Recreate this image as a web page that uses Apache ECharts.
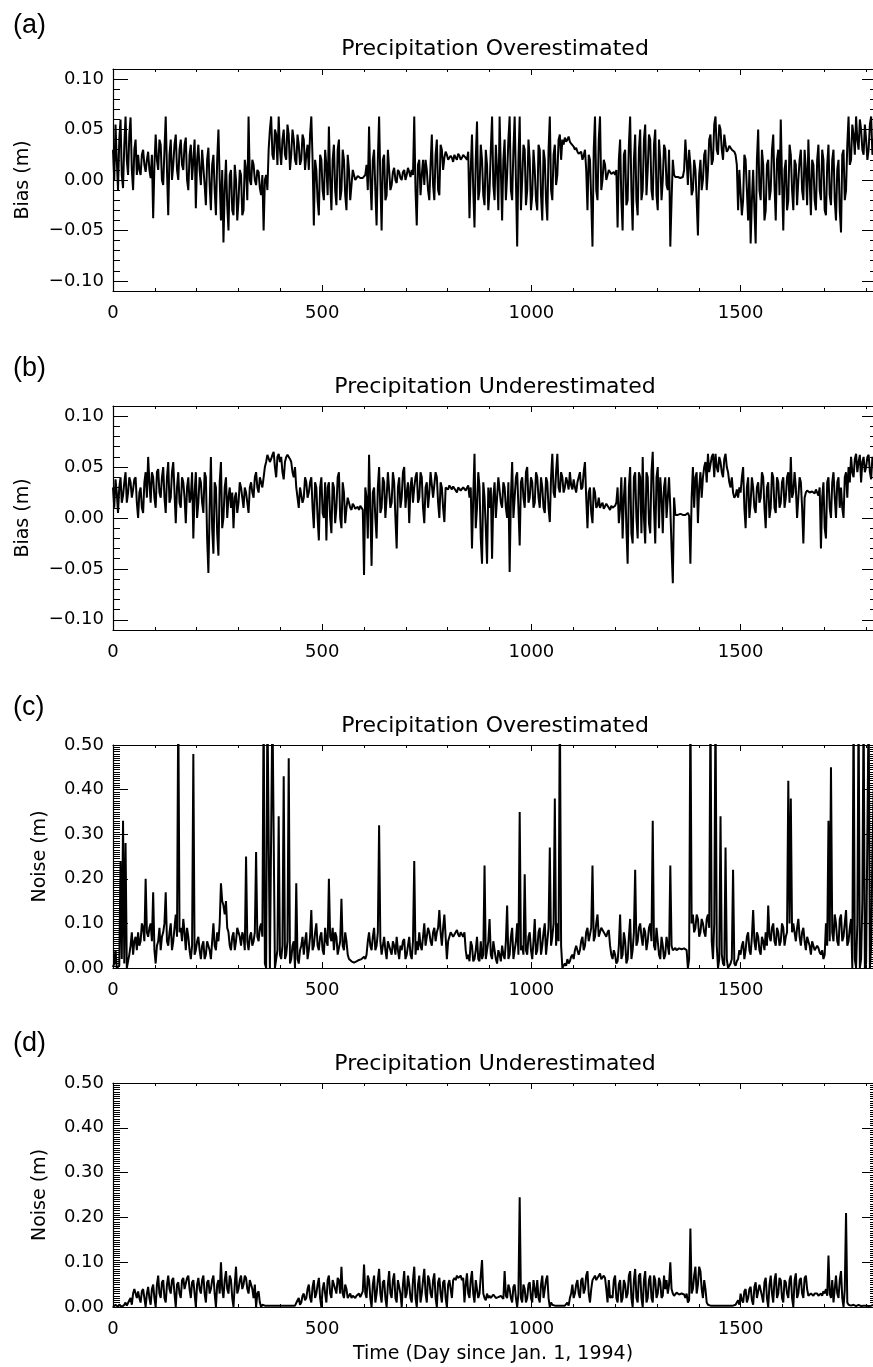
<!DOCTYPE html>
<html>
<head>
<meta charset="utf-8">
<script src="https://cdn.jsdelivr.net/npm/echarts@6/dist/echarts.min.js"></script>
<style>
html,body{margin:0;padding:0;background:#fff;}
#chart{width:873px;height:1367px;}
</style>
</head>
<body>
<div id="chart"></div>
<script>
// ---- data: samples on days 0,6,12,... (main) and 3,9,15,... (mid); values in millimetres ----
const STEP = 6;
const XMAX = 1826;
const xTickLabels = [0, 500, 1000, 1500];
const biasTicks = [-0.1, -0.05, 0, 0.05, 0.1];
const noiseTicks = [0, 0.1, 0.2, 0.3, 0.4, 0.5];
const panelLabels = ['(a)', '(b)', '(c)', '(d)'];
const panelTitles = ['Precipitation Overestimated', 'Precipitation Underestimated', 'Precipitation Overestimated', 'Precipitation Underestimated'];
const yNames = ['Bias (m)', 'Bias (m)', 'Noise (m)', 'Noise (m)'];
const xName = 'Time (Day since Jan. 1, 1994)';

// (a) bias, precipitation overestimated
const biasOverMm = [
 30,55,-10,60,-8,63,5,62,-10,40,
 25,5,30,8,28,2,-38,45,10,35,
 -5,63,-35,40,15,45,0,40,10,42,
 -10,35,20,-28,35,-5,30,-25,32,-30,
 25,-35,50,-40,-62,20,-50,10,-35,0,
 -20,5,-30,10,63,-5,15,-5,8,-15,
 -50,5,30,63,20,45,63,15,50,20,
 45,25,40,15,35,20,40,25,10,63,
 -45,10,-35,20,-20,15,53,-30,35,-25,
 40,-10,20,-30,10,-5,5,2,3,3,
 2,15,53,-30,30,-45,63,-50,25,-15,
 10,-5,12,-3,8,0,10,5,8,10,
 63,-45,20,5,-5,10,-20,45,-20,40,
 -15,30,22,25,20,22,25,20,24,22,
 26,20,-38,45,-47,58,-10,20,-25,15,
 -10,63,-20,10,63,-40,40,5,63,-20,
 63,-66,63,0,30,-10,20,-15,10,-30,
 30,-40,20,-40,63,-20,35,5,45,40,
 42,40,38,35,30,28,25,20,30,-30,
 20,-66,63,-20,63,0,15,5,8,5,
 5,-47,40,-50,30,-20,63,-50,45,-35,
 50,-10,55,10,40,-20,50,-30,20,0,
 30,-10,-66,20,3,3,2,3,40,-5,
 15,-10,10,-55,20,0,30,10,45,20,
 63,25,50,20,35,30,32,30,25,-30,
 10,-20,20,-40,-63,10,-63,50,-20,15,
 -30,20,-10,45,-40,30,60,-50,20,-20,
 25,-30,15,0,30,-20,10,40,-35,15,
 -30,35,-20,20,-35,35,-25,30,-40,20,
 -52,30,-10,63,20,45,63,30,50,25,
 40,30,63,35,45
];
const biasOverMidMm = [
 0,20,40,5,35,20,45,10,30,5,
 10,25,15,20,10,25,15,20,40,0,
 30,10,25,0,35,10,30,15,35,0,
 25,0,40,20,10,30,-5,20,-5,15,
 -10,20,0,10,-10,-25,5,-30,15,-40,
 10,-35,20,-20,0,20,0,10,-8,5,
 0,-10,50,25,50,15,30,40,25,55,
 10,50,20,45,15,45,10,35,45,20,
 20,-20,25,-10,30,-15,0,20,-10,30,
 -20,30,-15,25,-20,10,0,4,2,2,
 5,-10,0,20,-10,20,0,20,-20,30,
 -10,8,0,10,2,8,0,12,3,5,
 -10,15,-15,20,20,-10,15,-5,25,-10,
 35,10,28,20,24,18,22,26,20,25,
 22,28,10,-10,20,-20,35,-15,30,-30,
 30,-5,35,-30,10,20,-20,40,-10,30,
 0,20,-30,35,-25,40,-30,30,-20,35,
 -15,30,-20,30,-10,25,-5,40,20,35,
 38,43,36,33,32,26,28,24,10,25,
 -20,30,-10,40,-10,20,0,10,6,8,
 10,20,-20,25,-25,35,-10,20,-20,30,
 -20,40,-15,45,-10,35,-15,40,-20,35,
 -5,30,-20,5,4,2,3,10,20,30,
 -15,20,-20,5,-10,25,-10,40,15,55,
 30,55,30,45,28,34,30,28,15,10,
 -35,25,-10,10,-20,-30,20,-10,30,-40,
 15,-20,30,-5,20,-15,0,10,-30,35,
 -10,20,-25,20,-10,30,-25,0,20,-20,
 20,-10,30,-30,15,-15,20,-20,10,-30,
 25,-20,35,15,55,25,40,60,30,55,
 20,55,25,60,30
];

// (b) bias, precipitation underestimated
const biasUnderMm = [
 30,38,5,40,22,45,25,35,28,40,
 0,30,5,45,60,15,40,10,48,20,
 50,5,55,20,55,-5,45,10,35,-5,
 40,20,-20,45,15,35,5,40,-54,60,
 -35,30,-37,55,0,40,20,10,-10,25,
 15,30,10,25,5,35,20,45,25,35,
 40,55,62,58,65,40,63,60,38,60,
 62,55,40,30,10,30,20,35,25,40,
 -10,30,-22,40,0,-22,35,-15,30,10,
 45,-10,25,10,15,8,12,10,8,10,
 -56,20,62,-47,30,-20,50,10,35,20,
 45,15,35,-30,40,20,50,25,-5,40,
 30,45,20,40,-5,35,25,45,20,40,
 0,30,-4,30,32,28,30,25,30,28,
 30,28,20,-30,63,10,30,-45,20,-45,
 10,-40,35,20,40,10,30,0,-53,55,
 20,45,-27,40,10,50,20,35,15,40,
 10,30,5,35,-4,63,20,63,25,40,
 30,35,45,28,30,35,45,30,55,-10,
 30,-5,25,12,10,15,10,12,8,10,
 12,30,10,-20,40,-45,50,-25,45,-20,
 40,60,-25,40,-15,65,-25,50,40,-15,
 40,20,10,-64,3,3,4,3,3,5,
 -45,50,40,-5,45,40,55,63,45,63,
 63,45,55,40,63,45,30,25,22,20,
 25,50,-10,40,15,30,5,35,20,40,
 -10,35,10,40,5,35,15,40,20,45,
 60,25,30,20,35,-25,25,26,24,25,
 28,22,-30,35,-20,40,0,45,0,40,
 30,0,45,50,60,40,63,55,35,60,
 50,62,38,55,45
];
const biasUnderMidMm = [
 10,25,30,15,35,15,40,20,38,15,
 25,10,35,20,35,45,20,45,25,40,
 20,40,15,45,25,30,15,40,20,30,
 15,45,25,0,40,15,45,-20,10,-10,
 35,-15,35,-10,30,0,30,25,20,5,
 35,20,30,15,30,25,40,30,40,30,
 50,62,55,62,50,60,55,45,55,62,
 58,45,50,20,30,15,40,20,35,10,
 35,0,30,5,35,30,0,35,-5,40,
 0,35,-5,20,10,14,9,11,12,8,
 30,-20,10,25,0,30,5,40,0,45,
 10,45,0,30,10,45,10,35,30,15,
 40,15,45,10,30,10,45,20,45,15,
 35,10,30,28,30,31,27,30,27,30,
 27,32,30,20,-10,45,-20,35,-10,30,
 30,20,0,40,15,35,10,35,20,0,
 40,10,35,20,45,15,40,10,45,20,
 40,10,40,10,40,25,45,30,45,25,
 40,28,32,38,25,40,28,45,20,25,
 5,30,10,20,13,9,14,10,12,10,
 15,-5,40,20,-10,30,-15,40,0,45,
 -15,0,45,-5,45,10,40,-10,20,30,
 0,40,-30,20,4,3,3,4,3,2,
 20,10,45,30,20,50,35,45,60,40,
 50,60,45,58,50,35,40,20,28,30,
 40,10,30,0,40,10,30,15,45,10,
 30,0,45,10,40,10,35,10,40,15,
 20,45,0,40,10,20,27,25,26,24,
 25,30,20,-10,35,10,35,20,35,10,
 10,40,20,35,45,58,45,62,55,45,
 60,45,60,40,55
];

// (c) noise, precipitation overestimated (values above 500 run off the top)
const noiseOverMm = [
 2,40,0,240,330,280,0,50,30,70,
 80,60,90,200,70,100,170,10,60,40,
 80,170,50,100,60,120,600,90,110,40,
 70,20,480,40,70,20,60,30,50,20,
 100,40,60,190,140,150,80,40,80,60,
 90,50,70,250,40,80,60,260,60,100,
 600,0,600,0,600,0,340,20,430,30,
 470,20,60,190,10,50,30,80,40,130,
 50,100,40,80,30,60,200,60,40,70,
 30,155,40,60,20,15,12,15,18,20,
 25,30,80,40,90,50,320,30,70,20,
 60,30,50,70,20,40,65,30,70,20,
 240,60,80,40,100,70,80,50,90,80,
 130,50,120,20,70,80,75,85,70,75,
 80,20,15,50,20,70,15,20,230,20,
 110,20,40,10,30,50,20,140,30,90,
 20,100,350,50,210,30,80,20,110,40,
 90,50,100,60,270,70,380,100,600,0,
 10,20,15,30,40,50,40,70,50,90,
 60,230,70,120,80,90,75,80,50,20,
 30,15,120,30,60,20,110,40,220,60,
 100,50,80,60,100,330,40,60,20,50,
 30,50,230,40,45,40,45,40,45,0,
 600,120,90,110,80,100,70,120,600,20,
 600,0,340,10,270,0,10,220,5,20,
 30,60,40,80,30,130,40,70,30,60,
 80,140,60,100,50,80,60,90,70,420,
 380,100,60,110,50,90,40,70,30,50,
 40,45,30,20,100,330,450,60,100,50,
 120,70,130,60,110,600,0,600,20,600,
 10,600,50,400,100
];
const noiseOverMidMm = [
 10,0,5,20,10,0,30,80,60,40,
 50,100,60,80,90,60,40,50,90,70,
 100,60,80,40,90,70,80,60,80,90,
 40,50,30,60,40,50,20,60,40,60,
 50,80,100,150,120,90,50,70,40,90,
 70,80,40,60,70,50,80,70,90,70,
 10,600,0,600,0,40,30,50,20,60,
 10,50,0,20,40,70,60,20,70,40,
 80,50,70,40,90,50,70,90,80,30,
 60,50,80,30,18,14,13,16,19,22,
 20,60,50,70,40,80,60,50,40,60,
 40,60,30,40,50,60,20,50,30,60,
 30,40,50,70,50,90,60,80,60,90,
 80,90,70,60,80,70,80,75,80,70,
 40,30,60,15,40,20,60,30,20,60,
 30,60,20,40,15,30,60,20,70,20,
 60,30,40,30,40,70,40,60,30,80,
 30,80,30,90,50,100,50,60,50,5,
 5,10,25,20,50,30,60,40,80,60,
 90,60,100,70,90,80,70,85,30,40,
 10,50,20,80,10,70,20,80,50,90,
 70,90,40,90,60,50,90,30,70,20,
 70,30,50,42,40,44,42,44,40,20,
 100,80,120,70,110,80,110,90,60,100,
 50,20,30,5,20,5,20,10,15,40,
 50,20,70,40,70,60,80,40,70,40,
 50,70,90,60,90,50,100,50,80,100,
 80,80,90,70,80,60,70,50,60,40,
 50,35,40,30,50,60,80,120,60,110,
 60,100,50,90,0,20,100,0,150,0,
 300,0,250,50,200
];

// (d) noise, precipitation underestimated
const noiseUnderMm = [
 0,5,0,8,2,10,0,20,30,40,
 35,10,40,0,45,5,50,0,70,20,
 60,10,70,30,65,0,55,20,65,40,
 70,20,60,0,65,30,70,10,60,40,
 70,0,60,100,20,80,30,60,0,90,
 40,70,50,65,30,60,20,0,35,0,
 3,3,3,3,3,3,3,3,3,3,
 3,3,3,5,20,10,30,20,50,10,
 60,30,65,0,55,10,70,20,60,30,
 60,90,20,40,25,20,22,25,30,25,
 95,20,60,0,70,30,85,10,60,0,
 80,20,75,10,60,0,80,30,50,10,
 90,0,70,30,85,10,60,20,75,0,
 65,10,60,0,60,20,65,70,65,60,
 10,75,20,80,10,60,30,105,20,30,
 25,20,25,18,20,22,80,20,40,10,
 50,0,245,10,40,20,55,10,40,60,
 10,70,20,70,0,5,3,3,3,3,
 3,10,20,50,30,60,20,65,40,80,
 10,60,70,65,75,60,65,10,20,20,
 70,10,60,20,50,30,80,0,85,10,
 75,0,80,20,70,10,60,30,55,25,
 40,30,100,30,28,30,32,30,20,10,
 175,40,90,50,80,20,40,5,3,3,
 3,3,3,3,3,3,3,3,5,15,
 30,10,40,20,45,5,55,20,50,10,
 65,0,70,10,75,30,60,10,55,20,
 70,0,75,30,65,20,70,25,30,25,
 28,25,30,35,40,115,20,10,70,20,
 80,0,210,5,3,5,2,5,2,3,
 3,2,3,5,2
];
const noiseUnderMidMm = [
 3,2,6,0,5,3,15,5,40,20,
 20,35,20,30,20,40,20,50,30,55,
 20,50,40,60,30,50,30,60,40,65,
 40,55,30,50,40,60,30,55,30,60,
 30,50,30,40,60,40,70,20,50,30,
 60,40,70,40,60,40,50,30,10,5,
 3,3,3,3,3,3,3,3,3,3,
 3,3,3,15,5,25,15,40,20,45,
 20,50,20,40,30,60,30,60,40,65,
 30,30,50,20,30,25,20,28,22,35,
 30,70,20,50,10,60,30,55,20,50,
 30,60,20,60,30,50,20,70,20,60,
 20,50,10,60,30,70,30,60,20,55,
 30,55,20,50,40,60,60,65,70,65,
 50,30,60,30,60,20,70,30,15,20,
 20,28,20,22,25,18,25,50,20,45,
 20,30,20,50,10,50,20,60,20,20,
 50,20,60,20,10,3,3,3,3,3,
 5,3,30,20,50,30,60,30,70,30,
 40,65,60,70,62,70,40,60,25,60,
 20,50,10,60,20,70,20,60,20,70,
 20,60,10,60,20,70,20,65,20,70,
 60,50,40,25,32,28,30,28,30,15,
 30,70,30,90,40,60,10,3,3,3,
 3,3,3,3,3,3,3,3,10,5,
 15,35,10,40,15,45,20,50,25,55,
 20,50,30,60,20,65,20,60,30,60,
 20,60,20,60,30,65,40,28,28,30,
 30,28,25,30,25,30,60,40,30,60,
 20,40,10,3,4,3,4,3,3,2,
 2,4,3,3,3
];

// ---- layout ----
const FONT = 'DejaVu Sans';
const GRID_LEFT = 113, GRID_WIDTH = 764;
const panels = [
  {top: 69,   h: 222, min: -0.11, max: 0.11, minor: 0.01,  majors: biasTicks,  data: biasOverMm,   mid: biasOverMidMm,   nameX: 23, titleY: 49,   labelY: 26},
  {top: 406,  h: 224, min: -0.11, max: 0.11, minor: 0.01,  majors: biasTicks,  data: biasUnderMm,  mid: biasUnderMidMm,  nameX: 23, titleY: 387,  labelY: 369},
  {top: 745,  h: 223, min: 0,     max: 0.5,  minor: 0.005, majors: noiseTicks, data: noiseOverMm,  mid: noiseOverMidMm,  nameX: 40, titleY: 726,  labelY: 708},
  {top: 1083, h: 224, min: 0,     max: 0.5,  minor: 0.005, majors: noiseTicks, data: noiseUnderMm, mid: noiseUnderMidMm, nameX: 40, titleY: 1064, labelY: 1044}
];

function fmtY(v) {
  const s = Math.abs(v).toFixed(2);
  return (v < -1e-9 ? '\u2212' : '') + s;
}
function fmtX(v) { return String(Math.round(v)); }
function mergeSamples(main, mid) {
  const out = [];
  for (let k = 0; k < main.length; k++) {
    out.push([k * STEP, main[k] / 1000]);
    if (k < mid.length) out.push([k * STEP + STEP / 2, mid[k] / 1000]);
  }
  return out;
}
const black = {color: '#000', width: 1};
const grids = [], xAxes = [], yAxes = [], series = [], graphics = [];

panels.forEach((p, i) => {
  grids.push({left: GRID_LEFT, top: p.top, width: GRID_WIDTH, height: p.h, containLabel: false, outerBoundsMode: 'none'});
  const xBase = {gridIndex: i, type: 'value', min: 0, max: XMAX, splitLine: {show: false}};
  xAxes.push(Object.assign({}, xBase, {position: 'bottom', interval: 100,
    axisLine: {show: true, onZero: false, lineStyle: {color: '#000', width: 1.2}},
    axisTick: {show: true, inside: true, length: 3, lineStyle: black},
    axisLabel: {show: false}}));
  xAxes.push(Object.assign({}, xBase, {position: 'bottom',
    axisLine: {show: false, onZero: false},
    axisTick: {show: true, inside: true, length: 6, customValues: xTickLabels, lineStyle: black},
    axisLabel: {show: true, customValues: xTickLabels, formatter: fmtX, margin: 13, color: '#000', fontFamily: FONT, fontSize: 18, hideOverlap: false}}));
  xAxes.push(Object.assign({}, xBase, {position: 'top', interval: 100,
    axisLine: {show: true, onZero: false, lineStyle: {color: '#000', width: 1.2}},
    axisTick: {show: true, inside: true, length: 3, lineStyle: black},
    axisLabel: {show: false}}));
  xAxes.push(Object.assign({}, xBase, {position: 'top',
    axisLine: {show: false, onZero: false},
    axisTick: {show: true, inside: true, length: 6, customValues: xTickLabels, lineStyle: black},
    axisLabel: {show: false}}));

  const yBase = {gridIndex: i, type: 'value', min: p.min, max: p.max, splitLine: {show: false}};
  yAxes.push(Object.assign({}, yBase, {position: 'left', interval: p.minor,
    axisLine: {show: true, onZero: false, lineStyle: {color: '#000', width: 1.2}},
    axisTick: {show: true, inside: true, length: 7, lineStyle: black},
    axisLabel: {show: false}}));
  yAxes.push(Object.assign({}, yBase, {position: 'left',
    axisLine: {show: false, onZero: false},
    axisTick: {show: true, inside: true, length: 15, customValues: p.majors, lineStyle: black},
    axisLabel: {show: true, customValues: p.majors, margin: 9, formatter: fmtY, color: '#000', fontFamily: FONT, fontSize: 18, hideOverlap: false}}));
  yAxes.push(Object.assign({}, yBase, {position: 'right', interval: p.minor,
    axisLine: {show: true, onZero: false, lineStyle: {color: '#000', width: 1.2}},
    axisTick: {show: true, inside: true, length: 7, lineStyle: black},
    axisLabel: {show: false}}));
  yAxes.push(Object.assign({}, yBase, {position: 'right',
    axisLine: {show: false, onZero: false},
    axisTick: {show: true, inside: true, length: 15, customValues: p.majors, lineStyle: black},
    axisLabel: {show: false}}));

  series.push({
    type: 'line', xAxisIndex: 4 * i, yAxisIndex: 4 * i,
    data: mergeSamples(p.data, p.mid),
    symbol: 'none', showSymbol: false, clip: true, silent: true,
    lineStyle: {color: '#000', width: 2}
  });

  graphics.push({type: 'text', x: 13, y: p.labelY,
    style: {text: panelLabels[i], fill: '#000', font: '27px "Liberation Sans", Arial, sans-serif', textAlign: 'left', textVerticalAlign: 'middle', align: 'left', verticalAlign: 'middle'}});
  graphics.push({type: 'text', x: GRID_LEFT + 382, y: p.titleY,
    style: {text: panelTitles[i], fill: '#000', font: '22px "DejaVu Sans", sans-serif', textAlign: 'center', textVerticalAlign: 'middle', align: 'center', verticalAlign: 'middle'}});
  graphics.push({type: 'text', x: p.nameX, y: p.top + p.h / 2, rotation: Math.PI / 2,
    style: {text: yNames[i], fill: '#000', font: '19px "DejaVu Sans", sans-serif', textAlign: 'center', textVerticalAlign: 'middle', align: 'center', verticalAlign: 'middle'}});
});

graphics.push({type: 'text', x: 493, y: 1354,
  style: {text: xName, fill: '#000', font: '19px "DejaVu Sans", sans-serif', textAlign: 'center', textVerticalAlign: 'middle', align: 'center', verticalAlign: 'middle'}});

const chart = echarts.init(document.getElementById('chart'), null, {renderer: 'canvas'});
chart.setOption({
  animation: false,
  backgroundColor: '#fff',
  grid: grids,
  xAxis: xAxes,
  yAxis: yAxes,
  series: series,
  graphic: graphics
});
</script>
</body>
</html>
